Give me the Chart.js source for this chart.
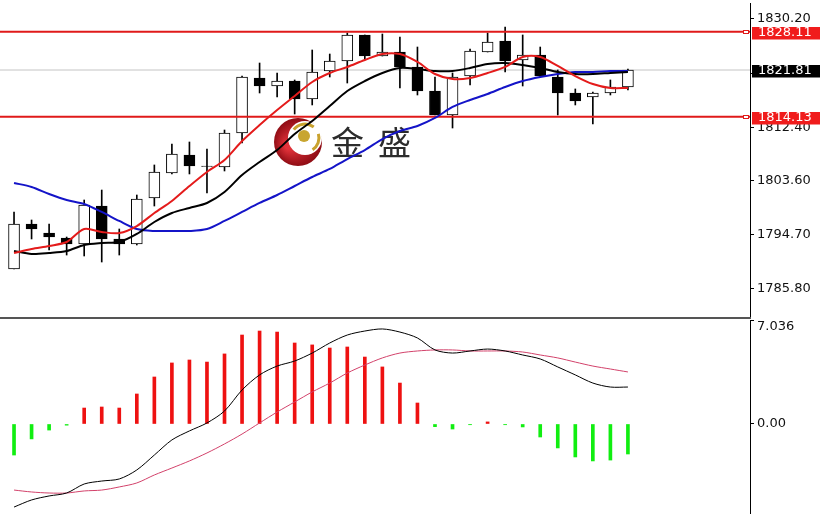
<!DOCTYPE html>
<html>
<head>
<meta charset="utf-8">
<title>XAUUSD H1</title>
<script src="https://cdn.jsdelivr.net/npm/chart.js@4.4.1/dist/chart.umd.min.js"></script>
<style>
  html, body { margin: 0; padding: 0; background: #fff; }
  #wrap { position: relative; width: 820px; height: 514px; overflow: hidden; }
  #priceChart { position: absolute; left: 0; top: 0; }
  #macdChart { position: absolute; left: 0; top: 320px; }
  #sep { position: absolute; left: 0; top: 317px; width: 751px; height: 2px; background: #555; }
</style>
</head>
<body>
<div id="wrap">
  <canvas id="priceChart" width="820" height="317"></canvas>
  <div id="sep"></div>
  <canvas id="macdChart" width="820" height="194"></canvas>
</div>
<script>
// candles
const opens  = [1789.08,1796.48,1795.00,1794.18,1793.19,1799.44,1794.02,1793.19,1800.76,1804.87,1807.83,1806.02,1805.86,1811.45,1820.50,1819.18,1820.00,1817.04,1821.65,1823.29,1827.57,1824.11,1824.77,1822.31,1818.36,1814.41,1820.82,1824.77,1826.58,1823.46,1824.28,1820.66,1818.03,1817.37,1818.03,1819.02];
const highs  = [1798.46,1797.14,1796.48,1794.34,1800.43,1802.07,1795.66,1801.25,1806.19,1809.64,1809.97,1808.82,1811.94,1820.82,1822.96,1821.32,1820.17,1825.10,1824.44,1827.90,1827.57,1827.73,1827.24,1825.59,1820.66,1821.32,1825.27,1827.90,1828.88,1827.57,1825.59,1821.81,1818.69,1818.19,1820.17,1821.98];
const lows   = [1789.08,1794.02,1792.21,1791.38,1791.22,1790.23,1791.38,1793.03,1799.44,1804.70,1804.71,1801.58,1805.20,1809.81,1818.03,1817.37,1814.57,1816.06,1820.66,1819.67,1823.62,1824.11,1818.85,1817.70,1814.41,1812.27,1819.34,1824.77,1821.48,1819.18,1820.66,1814.41,1816.06,1812.93,1817.70,1818.52];
const closes = [1796.48,1795.66,1794.34,1793.19,1799.61,1794.02,1793.19,1800.59,1805.04,1808.00,1806.02,1805.95,1811.45,1820.66,1819.18,1820.00,1817.04,1821.48,1823.29,1827.57,1824.11,1824.77,1822.31,1818.36,1814.41,1820.66,1824.94,1826.42,1823.29,1824.28,1820.82,1818.03,1816.71,1818.03,1819.02,1821.81];

// moving averages
const maFast = [1791.71,1792.37,1792.86,1793.52,1795.66,1795.17,1795.00,1796.15,1798.29,1800.27,1802.73,1805.04,1807.01,1810.13,1812.77,1815.23,1817.54,1819.84,1821.32,1822.31,1823.46,1824.44,1824.44,1823.13,1821.15,1820.33,1820.50,1821.32,1822.31,1823.95,1823.95,1822.47,1820.82,1819.51,1818.85,1818.85];
const maMid  = [1792.04,1791.55,1791.71,1792.04,1793.03,1793.36,1793.52,1794.84,1796.81,1798.29,1799.12,1799.94,1801.75,1804.54,1806.68,1808.65,1811.29,1813.42,1815.89,1818.36,1820.00,1821.32,1822.14,1821.98,1821.65,1821.65,1822.14,1822.80,1822.96,1822.63,1822.14,1821.48,1821.15,1821.15,1821.32,1821.48];
const maSlow = [1803.23,1802.57,1801.42,1800.43,1799.77,1798.46,1796.98,1795.66,1795.33,1795.33,1795.33,1795.66,1796.98,1798.46,1799.94,1801.25,1802.73,1804.21,1805.53,1807.17,1808.65,1810.46,1811.78,1812.60,1813.92,1815.73,1816.88,1817.87,1819.02,1820.00,1820.66,1821.15,1821.48,1821.48,1821.65,1821.65];

// MACD panel
const macdHist   = [-2.10,-1.01,-0.41,-0.08,1.08,1.15,1.08,2.03,3.18,4.13,4.33,4.19,4.74,6.02,6.29,6.22,5.48,5.35,5.14,5.21,4.53,3.86,2.77,1.42,-0.18,-0.34,-0.05,0.14,-0.05,-0.20,-0.88,-1.62,-2.23,-2.50,-2.44,-2.03];
const macdLine   = [-5.62,-5.14,-4.87,-4.67,-4.06,-3.86,-3.72,-3.11,-2.10,-1.08,-0.47,0.07,0.88,2.30,3.32,3.92,4.26,4.80,5.48,6.02,6.29,6.43,6.22,5.82,5.01,4.80,4.94,5.07,4.94,4.67,4.40,3.86,3.32,2.77,2.50,2.50];
const signalLine = [-4.47,-4.60,-4.67,-4.67,-4.53,-4.47,-4.26,-3.99,-3.45,-2.98,-2.50,-1.96,-1.35,-0.68,0.07,0.81,1.49,2.17,2.77,3.45,3.99,4.47,4.80,4.94,5.01,5.01,4.94,4.94,4.94,4.87,4.67,4.47,4.19,3.92,3.72,3.52];

// axis ticks and levels
const priceTicks = [1830.20, 1821.30, 1812.40, 1803.60, 1794.70, 1785.80];
const macdTicks = [7.036, 0];
const resistance = 1828.11;
const support = 1814.13;
const lastPrice = 1821.81;

const xMin = -0.8, xMax = 41.96;
const FONT = '"DejaVu Sans", Verdana, sans-serif';

const xy = arr => arr.map((v, i) => ({ x: i, y: v }));
const hline = v => [{ x: xMin, y: v }, { x: xMax, y: v }];

function curve(arr, color, width) {
  return { type: 'line', data: xy(arr), borderColor: color, borderWidth: width, pointRadius: 0, tension: 0.3, order: 0 };
}

function rightAxis(ticks, fmt) {
  return {
    position: 'right',
    afterFit: s => { s.width = 70; s.paddingTop = 0; s.paddingBottom = 0; },
    afterBuildTicks: s => { s.ticks = ticks.map(v => ({ value: v })); },
    grid: { drawOnChartArea: false, drawTicks: true, tickLength: 4, color: '#000' },
    border: { display: true, color: '#000', width: 1 },
    ticks: { color: '#111', padding: 3, font: { family: FONT, size: 13 }, callback: fmt }
  };
}

const xAxis = { type: 'linear', min: xMin, max: xMax, display: false, offset: false };

function drawLogo(ctx) {
  const cx = 298, cy = 142;
  const g = ctx.createRadialGradient(cx - 10, cy + 4, 3, cx, cy, 25);
  g.addColorStop(0, '#e2323a');
  g.addColorStop(1, '#8a0a12');
  ctx.fillStyle = g;
  ctx.beginPath(); ctx.arc(cx, cy, 24, 0, Math.PI * 2); ctx.fill();
  // hole of the crescent
  ctx.fillStyle = '#fff';
  ctx.beginPath(); ctx.arc(cx + 7, cy - 4, 17, 0, Math.PI * 2); ctx.fill();
  ctx.strokeStyle = '#c9a22e'; ctx.lineWidth = 3;
  ctx.beginPath(); ctx.arc(cx + 7, cy - 4, 14, -2.5, -0.9); ctx.stroke();
  ctx.beginPath(); ctx.arc(cx + 7, cy - 4, 14, -0.3, 1.0); ctx.stroke();
  ctx.fillStyle = '#c8a530';
  ctx.beginPath(); ctx.arc(cx + 6, cy - 6, 6, 0, Math.PI * 2); ctx.fill();

  ctx.fillStyle = '#2c2c2c';
  ctx.font = '33px "Noto Sans CJK SC"';
  ctx.textBaseline = 'middle';
  ctx.textAlign = 'left';
  ctx.fillText('金', 331, 142);
  ctx.fillText('盛', 378, 142);
}

function drawTag(ctx, y, text, bg) {
  ctx.fillStyle = bg;
  ctx.fillRect(752, Math.round(y) - 5, 68, 12.5);
  ctx.fillStyle = '#fff';
  ctx.font = '13px ' + FONT;
  ctx.textBaseline = 'middle';
  ctx.textAlign = 'left';
  ctx.fillText(text, 758, Math.round(y) + 1);
}

const pricePlugin = {
  id: 'priceDecor',
  beforeDatasetsDraw(chart) {
    const ctx = chart.ctx;
    ctx.save(); drawLogo(ctx); ctx.restore();
  },
  afterDraw(chart) {
    const ctx = chart.ctx, y = chart.scales.y;
    ctx.save();
    [resistance, support].forEach(v => {
      const py = Math.round(y.getPixelForValue(v));
      ctx.fillStyle = '#fff'; ctx.fillRect(743, py - 2, 6, 4);
      ctx.strokeStyle = '#e01a1a'; ctx.lineWidth = 1;
      ctx.strokeRect(743.5, py - 1.5, 5, 3);
    });
    drawTag(ctx, y.getPixelForValue(resistance), resistance.toFixed(2), '#f01c1c');
    drawTag(ctx, y.getPixelForValue(lastPrice), lastPrice.toFixed(2), '#000');
    drawTag(ctx, y.getPixelForValue(support), support.toFixed(2), '#f01c1c');
    ctx.restore();
  }
};

new Chart(document.getElementById('priceChart'), {
  type: 'bar',
  data: {
    datasets: [
      curve(maFast, '#e41b1b', 2),
      curve(maMid, '#000', 2),
      curve(maSlow, '#1414c8', 2),
      { type: 'line', data: hline(resistance), borderColor: '#e01a1a', borderWidth: 2, pointRadius: 0, order: 1 },
      { type: 'line', data: hline(support), borderColor: '#e01a1a', borderWidth: 2, pointRadius: 0, order: 1 },
      {
        data: opens.map((o, i) => ({ x: i, y: [o, closes[i]] })),
        backgroundColor: opens.map((o, i) => closes[i] >= o ? '#fff' : '#000'),
        borderColor: '#000', borderWidth: 1, borderSkipped: false,
        barThickness: 11, grouped: false, order: 2
      },
      {
        data: lows.map((l, i) => ({ x: i, y: [l, highs[i]] })),
        backgroundColor: '#000', borderWidth: 0,
        barThickness: 1, grouped: false, order: 3
      },
      { type: 'line', data: hline(lastPrice), borderColor: '#c4c4c4', borderWidth: 1, pointRadius: 0, order: 4 }
    ]
  },
  options: {
    responsive: false,
    animation: false,
    layout: { padding: { top: 3, bottom: 1, left: 0, right: 0 } },
    plugins: { legend: { display: false }, tooltip: { enabled: false } },
    scales: {
      x: xAxis,
      y: Object.assign(rightAxis(priceTicks, v => v.toFixed(2)), { min: 1781.35, max: 1832.83 })
    }
  },
  plugins: [pricePlugin]
});

const macdPlugin = {
  id: 'macdTop',
  afterDraw(chart) {
    const ctx = chart.ctx;
    ctx.save();
    ctx.fillStyle = '#111';
    ctx.font = '13px ' + FONT;
    ctx.textBaseline = 'middle';
    ctx.textAlign = 'left';
    ctx.fillText(macdTicks[0].toFixed(3), 757, 7);
    ctx.restore();
  }
};

new Chart(document.getElementById('macdChart'), {
  type: 'bar',
  data: {
    datasets: [
      curve(macdLine, '#000', 1),
      curve(signalLine, '#d2416a', 1),
      {
        data: xy(macdHist),
        backgroundColor: macdHist.map(v => v >= 0 ? '#ee1111' : '#11ee11'),
        borderWidth: 0, barThickness: 3, grouped: false, order: 1
      }
    ]
  },
  options: {
    responsive: false,
    animation: false,
    layout: { padding: 0 },
    plugins: { legend: { display: false }, tooltip: { enabled: false } },
    scales: {
      x: xAxis,
      y: Object.assign(rightAxis(macdTicks, v => v === 0 ? '0.00' : ''), { min: -6.09, max: 7.036 })
    }
  },
  plugins: [macdPlugin]
});
</script>
</body>
</html>
